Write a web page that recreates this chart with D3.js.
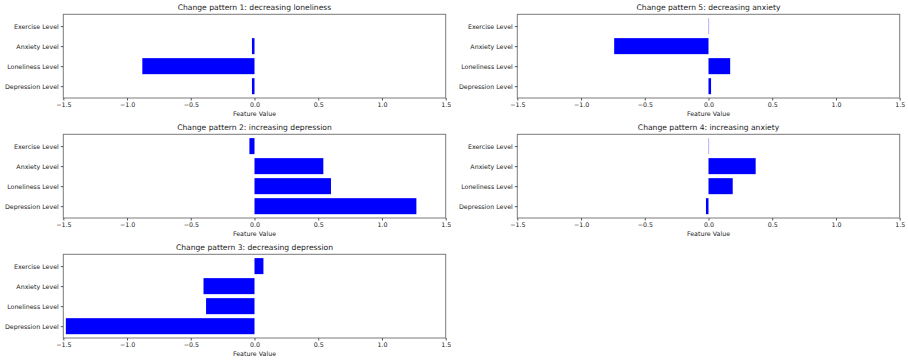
<!DOCTYPE html>
<html>
<head>
<meta charset="utf-8">
<script src="https://cdn.jsdelivr.net/npm/d3@7"></script>
<style>
	body { margin: 0; background: #fff; }
	svg { display: block; font-family: "DejaVu Sans", sans-serif; }
</style>
</head>
<body>
<div id="chart"></div>
<script>
// categories bottom to top, as barh draws them
var categories = ["Depression Level", "Loneliness Level", "Anxiety Level", "Exercise Level"];
var xTicks = [-1.5, -1.0, -0.5, 0.0, 0.5, 1.0, 1.5];

var pattern1 = [-0.02, -0.88, -0.02, 0.0];
var pattern2 = [1.27, 0.60, 0.54, -0.04];
var pattern3 = [-1.48, -0.38, -0.40, 0.07];
var pattern4 = [-0.02, 0.19, 0.37, 0.002];
var pattern5 = [0.02, 0.17, -0.74, 0.002];

var titles = [
	"Change pattern 1: decreasing loneliness",
	"Change pattern 2: increasing depression",
	"Change pattern 3: decreasing depression",
	"Change pattern 4: increasing anxiety",
	"Change pattern 5: decreasing anxiety"
];

var width = 908, height = 362;
var svg = d3.select("#chart").append("svg")
	.attr("width", width)
	.attr("height", height);

var panels = [
	{ title: titles[0], values: pattern1, col: 0, row: 0 },
	{ title: titles[1], values: pattern2, col: 0, row: 1 },
	{ title: titles[2], values: pattern3, col: 0, row: 2 },
	{ title: titles[3], values: pattern4, col: 1, row: 1 },
	{ title: titles[4], values: pattern5, col: 1, row: 0 }
];

var colX = [63.3, 517.3], axW = 382.4;
var rowY = [14.3, 134.3, 254.3], axH = 83.7;

function drawPanel(p){
	var g = svg.append("g")
		.attr("transform", "translate(" + colX[p.col] + "," + rowY[p.row] + ")");

	var x = d3.scaleLinear().domain([-1.5, 1.5]).range([0, axW]);
	// barh: bars of height 0.8 centred on 0..3, 5% margins
	var y = d3.scaleLinear().domain([-0.59, 3.59]).range([axH, 0]);

	var rows = categories.map(function(c, i){ return { cat: c, i: i, v: p.values[i] }; })
		.filter(function(d){ return d.v !== 0; });

	g.selectAll("rect.bar")
		.data(rows)
	.enter().append("rect")
		.attr("class", "bar")
		.attr("x", function(d){ return x(Math.min(0, d.v)); })
		.attr("width", function(d){ return Math.max(0.6, Math.abs(x(d.v) - x(0))); })
		.attr("y", function(d){ return y(d.i + 0.4); })
		.attr("height", function(d){ return y(d.i - 0.4) - y(d.i + 0.4); })
		.style("fill", "#0000ff")
		.style("opacity", function(d){ return Math.abs(x(d.v) - x(0)) < 1 ? 0.5 : 1; });

	g.append("rect")
		.attr("width", axW)
		.attr("height", axH)
		.style("fill", "none")
		.style("stroke", "#7a7a7a")
		.style("stroke-width", 1);

	var xAxis = g.append("g")
		.attr("transform", "translate(0," + axH + ")")
		.call(d3.axisBottom(x).tickValues(xTicks).tickSize(2.5).tickPadding(2)
			.tickFormat(function(d){ return d3.format(".1f")(d).replace("-", "\u2212"); }));
	xAxis.select(".domain").remove();

	var yAxis = g.append("g")
		.call(d3.axisLeft(y).tickValues([0, 1, 2, 3]).tickSize(2.5).tickPadding(2)
			.tickFormat(function(d){ return categories[d]; }));
	yAxis.select(".domain").remove();

	svg.selectAll(".tick line").style("stroke", "#555");
	svg.selectAll(".tick text")
		.style("font-family", "DejaVu Sans, sans-serif")
		.style("font-size", "6.3px")
		.style("fill", "#222");

	g.append("text")
		.attr("x", axW / 2)
		.attr("y", axH + 18.5)
		.attr("text-anchor", "middle")
		.style("font-size", "6.3px")
		.style("fill", "#222")
		.text("Feature Value");

	g.append("text")
		.attr("x", axW / 2)
		.attr("y", -4)
		.attr("text-anchor", "middle")
		.style("font-size", "7.6px")
		.style("fill", "#222")
		.text(p.title);
}

panels.forEach(drawPanel);
</script>
</body>
</html>
